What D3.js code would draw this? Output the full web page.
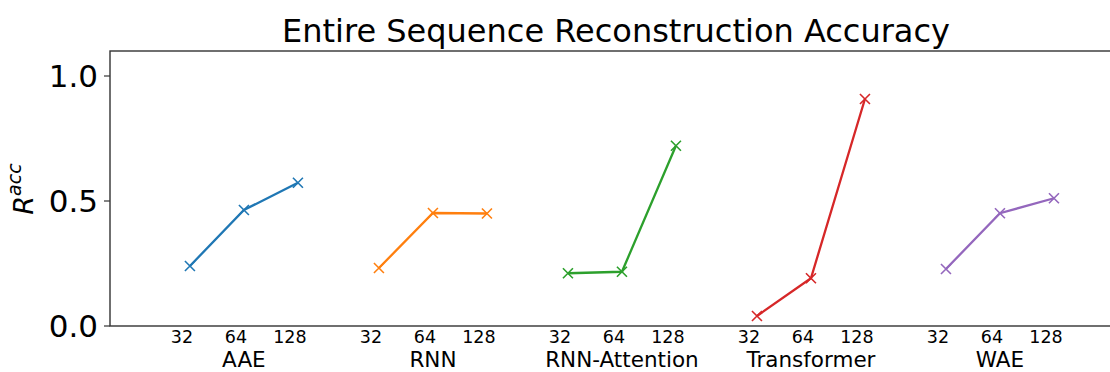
<!DOCTYPE html>
<html><head><meta charset="utf-8">
<script src="https://cdn.jsdelivr.net/npm/d3@7"></script>
<style>
body{margin:0;background:#fff;}
svg text{font-family:"DejaVu Sans",sans-serif;fill:#000;}
</style></head>
<body><svg id="c" width="1110" height="372"></svg>
<script>
const models = ["AAE","RNN","RNN-Attention","Transformer","WAE"];
const latentDims = ["32","64","128"];
const colors = ["#1f77b4","#ff7f0e","#2ca02c","#d62728","#9467bd"];
const aaeVals = [0.240,0.464,0.573];
const rnnVals = [0.232,0.452,0.450];
const rnnAttVals = [0.211,0.217,0.721];
const transformerVals = [0.040,0.191,0.908];
const waeVals = [0.228,0.451,0.511];
const seriesVals = [aaeVals,rnnVals,rnnAttVals,transformerVals,waeVals];
const yTicks = [0.0,0.5,1.0];
const title = "Entire Sequence Reconstruction Accuracy";

const svg = d3.select("#c");
const L=110, R=1122, T=51, B=326;
const groupStep = 3.5;
const x = d3.scaleLinear().domain([-1.48,17.26]).range([L,R]);
const y = d3.scaleLinear().domain([0,1.1]).range([B,T]);
const pos = (g,j)=>g*groupStep+j;

// title
svg.append("text").attr("x",(L+R)/2).attr("y",42).attr("text-anchor","middle")
  .attr("font-size",32).text(title);

// y axis ticks
const ya = svg.append("g");
yTicks.forEach(t=>{
  ya.append("line").attr("x1",L-6).attr("x2",L).attr("y1",y(t)).attr("y2",y(t))
    .attr("stroke","#333").attr("stroke-width",1.2);
  ya.append("text").attr("x",L-12).attr("y",y(t)).attr("dy","0.36em")
    .attr("text-anchor","end").attr("font-size",31).text(t.toFixed(1));
});

// y label
const yl = svg.append("text").attr("transform","translate(33,189) rotate(-90)")
  .attr("text-anchor","middle").attr("font-size",27);
yl.append("tspan").attr("font-style","italic").text("R");
yl.append("tspan").attr("font-size",19).attr("font-style","italic").attr("dy",-12).text("acc");

// x tick labels and group labels
models.forEach((m,g)=>{
  latentDims.forEach((d,j)=>{
    svg.append("text").attr("x",x(pos(g,j))-8).attr("y",343).attr("text-anchor","middle")
      .attr("font-size",17.5).text(d);
  });
  svg.append("text").attr("x",x(pos(g,1))).attr("y",366.5).attr("text-anchor","middle")
    .attr("font-size",21.5).text(m);
});

// lines and markers
const line = d3.line().x(d=>x(d[0])).y(d=>y(d[1]));
seriesVals.forEach((vals,g)=>{
  const pts = vals.map((v,j)=>[pos(g,j),v]);
  svg.append("path").attr("d",line(pts)).attr("fill","none")
    .attr("stroke",colors[g]).attr("stroke-width",2.3);
  const s=5;
  pts.forEach(p=>{
    const cx=x(p[0]), cy=y(p[1]);
    svg.append("path").attr("d",`M${cx-s},${cy-s}L${cx+s},${cy+s}M${cx-s},${cy+s}L${cx+s},${cy-s}`)
      .attr("stroke",colors[g]).attr("stroke-width",1.6);
  });
});

// spines
const sp = svg.append("g").attr("stroke","#333").attr("stroke-width",1.4).attr("fill","none");
sp.append("rect").attr("x",L).attr("y",T).attr("width",R-L).attr("height",B-T);
</script></body></html>
